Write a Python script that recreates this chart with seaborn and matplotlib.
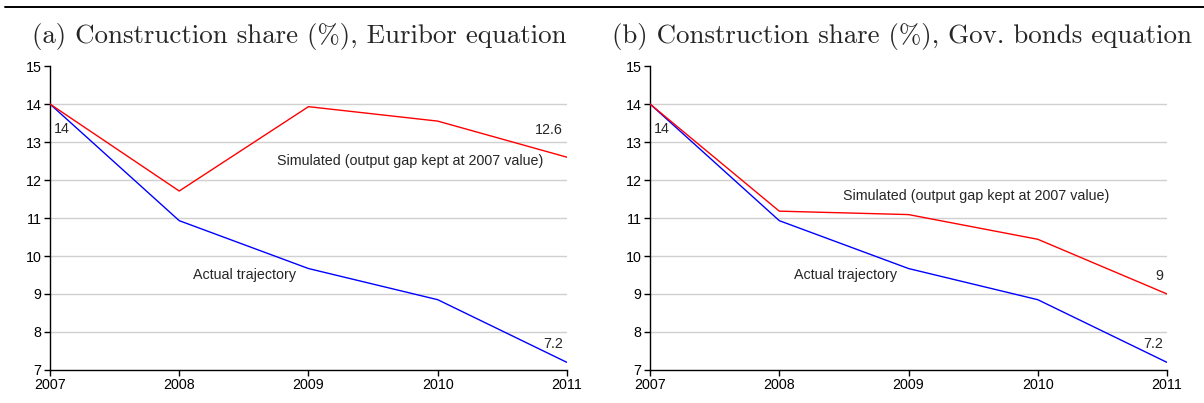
import matplotlib
matplotlib.use("Agg")
import matplotlib.pyplot as plt
import seaborn as sns
import pandas as pd
from matplotlib.lines import Line2D

years = [2007, 2008, 2009, 2010, 2011]
actual = [14.0, 10.93, 9.67, 8.85, 7.2]
sim_euribor = [14.0, 11.71, 13.93, 13.55, 12.6]
sim_govbonds = [14.0, 11.18, 11.09, 10.44, 9.0]
yticks = [7, 8, 9, 10, 11, 12, 13, 14, 15]
titles = ["(a) Construction share (%), Euribor equation",
          "(b) Construction share (%), Gov. bonds equation"]

sns.set_style("white")
plt.rcParams['font.family'] = ['Liberation Sans', 'DejaVu Sans']

fig = plt.figure(figsize=(12.04, 4.03), dpi=100)
axes = [fig.add_axes([0.0415, 0.0819, 0.4294, 0.7543]),
        fig.add_axes([0.5399, 0.0819, 0.4294, 0.7543])]

fs = 10.3
sims = [sim_euribor, sim_govbonds]
for i, ax in enumerate(axes):
    df = pd.DataFrame({"year": years + years,
                       "value": actual + sims[i],
                       "series": ["Actual"] * 5 + ["Simulated"] * 5})
    for v in yticks[1:-1]:
        ax.axhline(v, color="#d0d0d0", lw=1.0, zorder=0)
    sns.lineplot(data=df, x="year", y="value", hue="series",
                 palette={"Actual": "#0000ff", "Simulated": "#ff0000"},
                 lw=1.0, ax=ax, legend=False, zorder=3)
    ax.set_xlim(2007, 2011)
    ax.set_ylim(7, 15)
    ax.set_xticks(years)
    ax.set_xticklabels([str(y) for y in years])
    ax.set_yticks(yticks)
    ax.set_xlabel("")
    ax.set_ylabel("")
    for s in ["top", "right"]:
        ax.spines[s].set_visible(False)
    for s in ["left", "bottom"]:
        ax.spines[s].set_color("black")
        ax.spines[s].set_linewidth(1.0)
    ax.tick_params(axis="both", direction="out", length=4, width=1.0,
                   colors="black", labelsize=fs, pad=2,
                   left=True, bottom=True)
    ax.grid(False)
    ax.text(2007.03, 13.35, "14", fontsize=fs, ha="left", va="center")
    ax.text(2010.97, 7.68, "7.2", fontsize=fs, ha="right", va="center")
    ax.text(2008.11, 9.5, "Actual trajectory", fontsize=fs,
            ha="left", va="center")

axes[0].text(2010.97, 13.32, "12.6", fontsize=fs, ha="right", va="center")
axes[0].text(2008.76, 12.5, "Simulated (output gap kept at 2007 value)",
             fontsize=fs, ha="left", va="center")
axes[1].text(2010.97, 9.47, "9", fontsize=fs, ha="right", va="center")
axes[1].text(2008.49, 11.58, "Simulated (output gap kept at 2007 value)",
             fontsize=fs, ha="left", va="center")

fig.text(0.249, 0.893, titles[0], fontsize=19.4, family="cmr10",
         ha="center", va="baseline")
fig.text(0.749, 0.893, titles[1], fontsize=19.4, family="cmr10",
         ha="center", va="baseline")
fig.add_artist(Line2D([0.004, 1.0], [0.983, 0.983], color="black",
                      lw=1.4, transform=fig.transFigure))

fig.savefig("out.png", dpi=100)
